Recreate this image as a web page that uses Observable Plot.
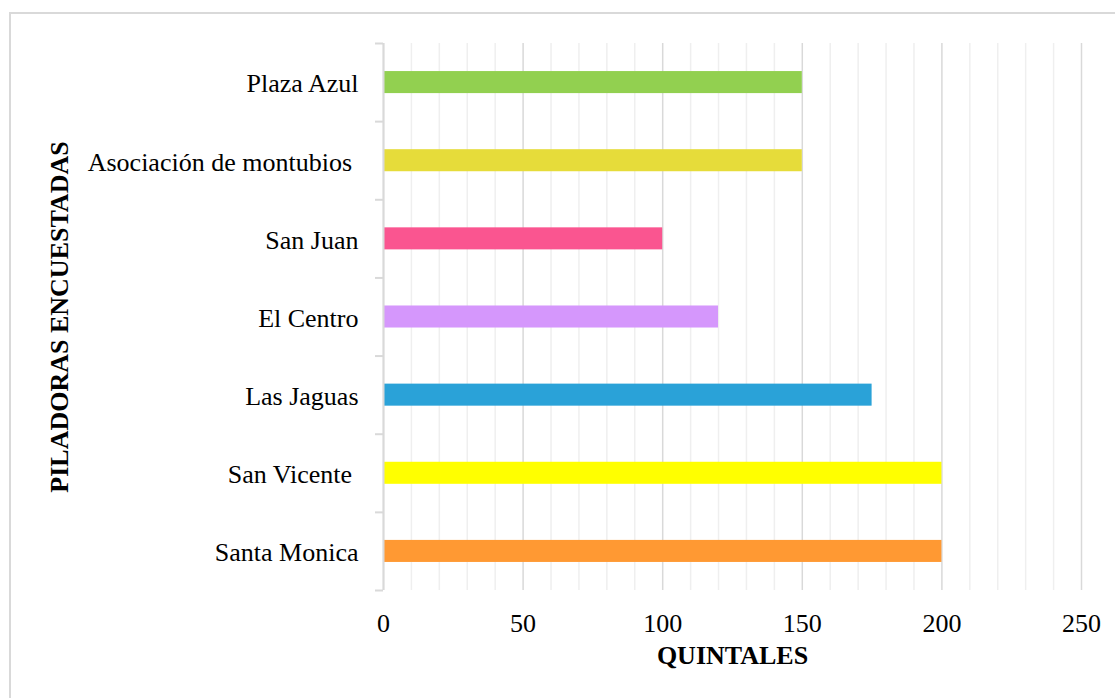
<!DOCTYPE html>
<html>
<head>
<meta charset="utf-8">
<script src="https://cdn.jsdelivr.net/npm/d3@7"></script>
<script src="https://cdn.jsdelivr.net/npm/@observablehq/plot@0.6"></script>
<style>
  html, body { margin: 0; padding: 0; background: #fff; overflow: hidden; }
  #wrap { position: relative; width: 1115px; height: 698px; overflow: hidden; background: #fff; }
  #border { position: absolute; left: 9px; top: 12px; width: 1200px; height: 800px; border: 2px solid #d9d9d9; box-sizing: border-box; }
  #chart { position: absolute; left: 0; top: 0; }
</style>
</head>
<body>
<div id="wrap">
  <div id="border"></div>
  <div id="chart"></div>
</div>
<script>
// Rice mills surveyed (top to bottom) and quintals processed
const categories = ["Plaza Azul", "Asociación de montubios ", "San Juan", "El Centro", "Las Jaguas", "San Vicente ", "Santa Monica"];
const quintales = [150, 150, 100, 120, 175, 200, 200];
const barColors = ["#92d050", "#e6dc3a", "#fa5590", "#d597fc", "#2aa2d8", "#ffff00", "#ff9933"];
const xMajorTicks = [0, 50, 100, 150, 200, 250];
const xMinorTicks = [10, 20, 30, 40, 60, 70, 80, 90, 110, 120, 130, 140, 160, 170, 180, 190, 210, 220, 230, 240];
const xTitle = "QUINTALES";
const yTitle = "PILADORAS ENCUESTADAS";

const n = categories.length;
const barHalf = 0.141; // half the bar thickness, in category slots
const rows = categories.map((name, i) => ({
  name,
  value: quintales[i],
  color: barColors[i],
  pos: n - i - 0.5
}));
const slotCenters = rows.map(d => d.pos);
const slotEdges = d3.range(0, n + 1);
const labelAt = p => {
  const r = rows.find(d => Math.abs(d.pos - p) < 1e-6);
  return r ? r.name.replace(/ +$/, s => "\u00a0".repeat(s.length)) : "";
};

const chart = Plot.plot({
  width: 1115,
  height: 698,
  marginLeft: 383,
  marginRight: 34,
  marginTop: 43,
  marginBottom: 108,
  style: {
    fontFamily: "'Liberation Serif', 'Times New Roman', serif",
    fontSize: "26px",
    color: "#000",
    background: "transparent"
  },
  x: { domain: [0, 250] },
  y: { domain: [0, n] },
  marks: [
    Plot.ruleX(xMinorTicks, { stroke: "#efefef", strokeWidth: 1.5 }),
    Plot.ruleX(xMajorTicks, { stroke: "#d9d9d9", strokeWidth: 1.5 }),
    Plot.rectX(rows, {
      x1: 0,
      x2: "value",
      y1: d => d.pos - barHalf,
      y2: d => d.pos + barHalf,
      fill: d => d.color
    }),
    Plot.ruleX([0], { stroke: "#d9d9d9", strokeWidth: 2 }),
    Plot.axisY(slotEdges, {
      tickSize: 8,
      tickFormat: () => "",
      stroke: "#d9d9d9",
      strokeWidth: 2,
      label: null
    }),
    Plot.axisY(slotCenters, {
      tickSize: 0,
      tickPadding: 25,
      tickFormat: labelAt,
      fontSize: 26,
      dy: 1.5,
      label: null
    }),
    Plot.axisX(xMajorTicks, {
      tickSize: 0,
      tickPadding: 23,
      fontSize: 26,
      label: null
    }),
    Plot.text([xTitle], {
      frameAnchor: "bottom",
      textAnchor: "middle",
      dy: 73,
      fontSize: 26,
      fontWeight: "bold",
      fill: "#000"
    }),
    Plot.text([yTitle], {
      frameAnchor: "left",
      textAnchor: "middle",
      rotate: -90,
      dx: -324,
      fontSize: 26,
      fontWeight: "bold",
      fill: "#000"
    })
  ]
});

document.getElementById("chart").appendChild(chart);
</script>
</body>
</html>
